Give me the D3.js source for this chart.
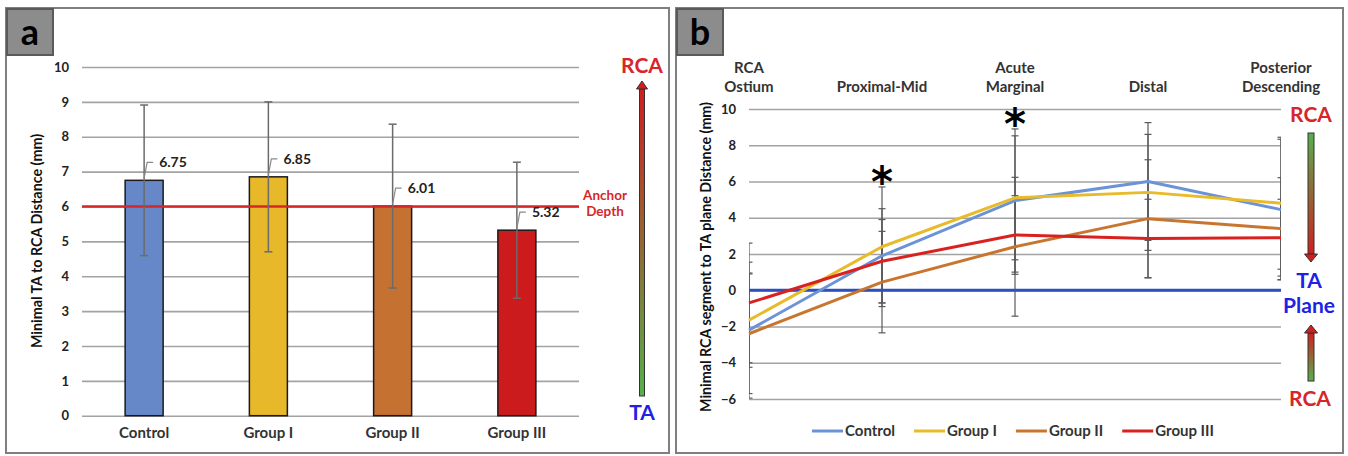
<!DOCTYPE html>
<html><head><meta charset="utf-8">
<script src="https://cdn.jsdelivr.net/npm/d3@7"></script>
<style>
body{margin:0;background:#fff}
svg{display:block}
text{font-family:Lato,"Open Sans",sans-serif;font-weight:700}
</style>
</head><body>
<svg id="chart" width="1348" height="456"></svg>
<script>
// ---------- Panel a data ----------
const groups = ["Control", "Group I", "Group II", "Group III"];
const meanDepth = [6.75, 6.85, 6.01, 5.32];
const sdDepth = [2.16, 2.15, 2.35, 1.95];
const depthTicks = [0, 1, 2, 3, 4, 5, 6, 7, 8, 9, 10];
const anchorDepth = 6;

// ---------- Panel b data ----------
const segments = [["RCA", "Ostium"], ["Proximal-Mid"], ["Acute", "Marginal"], ["Distal"], ["Posterior", "Descending"]];
const controlDist = [-2.2, 1.9, 4.95, 6.0, 4.45];
const group1Dist = [-1.65, 2.4, 5.1, 5.4, 4.8];
const group2Dist = [-2.4, 0.45, 2.4, 3.95, 3.4];
const group3Dist = [-0.7, 1.6, 3.05, 2.85, 2.9];
const controlSd = [3.75, 2.6, 3.95, 3.25, 3.88];
const group1Sd = [2.6, 3.3, 3.42, 3.2, 3.64];
const group2Sd = [3.3, 2.8, 3.83, 3.25, 2.81];
const group3Sd = [3.3, 2.3, 2.17, 2.17, 2.12];
const distTicks = [-6, -4, -2, 0, 2, 4, 6, 8, 10];
const sigMarks = ["", "*", "*", "", ""];
const taPlane = 0;

// ---------- styles ----------
const barColors = ["#6688c9", "#e6b82a", "#c57132", "#cc1b1c"];
const lineColors = ["#6b93d6", "#e8bb2a", "#c8762f", "#d9211f"];
const RED = "#d7262a", BLUE = "#2121e6", GRID = "#a3a3a3";

const svg = d3.select("#chart");

// panel frames
svg.append("rect").attr("x", 6).attr("y", 8).attr("width", 663).attr("height", 445)
  .attr("fill", "#fff").attr("stroke", "#7f7f7f").attr("stroke-width", 2);
svg.append("rect").attr("x", 676).attr("y", 8).attr("width", 667).attr("height", 445)
  .attr("fill", "#fff").attr("stroke", "#7f7f7f").attr("stroke-width", 2);

// gradients
const defs = svg.append("defs");
function grad(id, top, bottom) {
  const g = defs.append("linearGradient").attr("id", id).attr("x1", 0).attr("y1", 0).attr("x2", 0).attr("y2", 1);
  g.append("stop").attr("offset", "0%").attr("stop-color", top);
  g.append("stop").attr("offset", "100%").attr("stop-color", bottom);
}
const GR = "#d01f1f", GG = "#55b04b";
grad("redTop", GR, GG);
grad("greenTop", GG, GR);

function arrow(cx, yTop, yBot, w, headW, headL, dir, gradId, headFill) {
  const g = svg.append("g");
  if (dir === "up") {
    g.append("rect").attr("x", cx - w / 2).attr("y", yTop + headL).attr("width", w).attr("height", yBot - yTop - headL)
      .attr("fill", `url(#${gradId})`).attr("stroke", "#333").attr("stroke-width", 1);
    g.append("path").attr("d", `M${cx},${yTop} L${cx + headW / 2},${yTop + headL} L${cx - headW / 2},${yTop + headL} Z`)
      .attr("fill", headFill).attr("stroke", "#333").attr("stroke-width", 1);
  } else {
    g.append("rect").attr("x", cx - w / 2).attr("y", yTop).attr("width", w).attr("height", yBot - yTop - headL)
      .attr("fill", `url(#${gradId})`).attr("stroke", "#333").attr("stroke-width", 1);
    g.append("path").attr("d", `M${cx},${yBot} L${cx + headW / 2},${yBot - headL} L${cx - headW / 2},${yBot - headL} Z`)
      .attr("fill", headFill).attr("stroke", "#333").attr("stroke-width", 1);
  }
}

function labelBox(x, txt) {
  svg.append("rect").attr("x", x).attr("y", 9).attr("width", 46).attr("height", 46)
    .attr("fill", "#8c8c8c").attr("stroke", "#5a5a5a").attr("stroke-width", 2);
  svg.append("text").attr("x", x + 23).attr("y", 45).attr("text-anchor", "middle")
    .attr("font-size", 36).attr("fill", "#000").text(txt);
}

// ================= Panel a =================
{
  const x = d3.scaleBand().domain(groups).range([82, 579]).padding(0);
  const y = d3.scaleLinear().domain([0, 10]).range([415.7, 67]);
  const barW = 38;

  const ax = svg.append("g").attr("transform", "translate(82,0)")
    .call(d3.axisLeft(y).tickValues(depthTicks).tickSize(-497).tickPadding(13).tickFormat(d3.format("d")));
  ax.select(".domain").remove();
  ax.selectAll(".tick line").attr("stroke", GRID).attr("stroke-width", 1.6);
  ax.selectAll(".tick text").attr("font-size", 13).attr("fill", "#222")
    .style("font-family", "Lato,sans-serif").style("font-weight", 700);

  const bx = svg.append("g").attr("transform", "translate(0,415.7)")
    .call(d3.axisBottom(x).tickSize(0).tickPadding(12));
  bx.select(".domain").remove();
  bx.selectAll(".tick text").attr("font-size", 15).attr("fill", "#333")
    .style("font-family", "Lato,sans-serif").style("font-weight", 700);

  // bars
  svg.append("g").selectAll("rect").data(groups).join("rect")
    .attr("x", d => x(d) + x.bandwidth() / 2 - barW / 2)
    .attr("y", (d, i) => y(meanDepth[i]))
    .attr("width", barW)
    .attr("height", (d, i) => y(0) - y(meanDepth[i]))
    .attr("fill", (d, i) => barColors[i])
    .attr("stroke", "#1a1a1a").attr("stroke-width", 1.5);

  // anchor line
  svg.append("line").attr("x1", 82).attr("x2", 579).attr("y1", y(anchorDepth)).attr("y2", y(anchorDepth))
    .attr("stroke", RED).attr("stroke-width", 2.5);

  // error bars
  const eg = svg.append("g").attr("stroke", "#6b6b6b").attr("stroke-width", 1.5);
  groups.forEach((g, i) => {
    const cx = x(g) + x.bandwidth() / 2;
    const hi = y(meanDepth[i] + sdDepth[i]), lo = y(meanDepth[i] - sdDepth[i]);
    eg.append("line").attr("x1", cx).attr("x2", cx).attr("y1", hi).attr("y2", lo);
    eg.append("line").attr("x1", cx - 4).attr("x2", cx + 4).attr("y1", hi).attr("y2", hi);
    eg.append("line").attr("x1", cx - 4).attr("x2", cx + 4).attr("y1", lo).attr("y2", lo);
  });

  // data labels with leaders
  groups.forEach((g, i) => {
    const cx = x(g) + x.bandwidth() / 2;
    const top = y(meanDepth[i]);
    svg.append("polyline").attr("points", `${cx},${top - 2} ${cx + 3},${top - 18} ${cx + 9},${top - 18}`)
      .attr("fill", "none").attr("stroke", "#8a8a8a").attr("stroke-width", 1.2);
    svg.append("text").attr("x", cx + 15).attr("y", top - 18).attr("dy", "0.35em")
      .attr("font-size", 14).attr("fill", "#222").text(d3.format(".2f")(meanDepth[i]));
  });

  // anchor depth label
  svg.append("text").attr("x", 605).attr("y", 200).attr("text-anchor", "middle").attr("font-size", 13.5)
    .attr("fill", RED).text("Anchor");
  svg.append("text").attr("x", 605).attr("y", 216).attr("text-anchor", "middle").attr("font-size", 13.5)
    .attr("fill", RED).text("Depth");

  // y title
  svg.append("text").attr("transform", "translate(42,241) rotate(-90)").attr("text-anchor", "middle")
    .attr("font-size", 14.3).attr("fill", "#111").text("Minimal TA to RCA Distance (mm)");

  // gradient arrow
  arrow(642, 81, 396, 5, 11, 8, "up", "redTop", GR);
  svg.append("text").attr("x", 642).attr("y", 73).attr("text-anchor", "middle").attr("font-size", 21)
    .attr("fill", RED).text("RCA");
  svg.append("text").attr("x", 642).attr("y", 420).attr("text-anchor", "middle").attr("font-size", 21)
    .attr("fill", BLUE).text("TA");

  labelBox(7, "a");
}

// ================= Panel b =================
{
  const idx = d3.range(segments.length);
  const x = d3.scalePoint().domain(idx).range([749, 1281]);
  const y = d3.scaleLinear().domain([-6, 10]).range([399, 109]);
  const series = [
    { name: "Control", v: controlDist, sd: controlSd },
    { name: "Group I", v: group1Dist, sd: group1Sd },
    { name: "Group II", v: group2Dist, sd: group2Sd },
    { name: "Group III", v: group3Dist, sd: group3Sd }
  ];

  const ax = svg.append("g").attr("transform", "translate(749,0)")
    .call(d3.axisLeft(y).tickValues(distTicks).tickSize(-532).tickPadding(13).tickFormat(d3.format("d")));
  ax.select(".domain").remove();
  ax.selectAll(".tick line").attr("stroke", GRID).attr("stroke-width", 1.5);
  ax.selectAll(".tick text").attr("font-size", 13).attr("fill", "#222")
    .style("font-family", "Lato,sans-serif").style("font-weight", 700);

  // top category labels
  segments.forEach((lines, i) => {
    const t = svg.append("text").attr("text-anchor", "middle").attr("font-size", 15).attr("fill", "#333");
    lines.forEach((ln, j) => {
      t.append("tspan").attr("x", x(i)).attr("y", 92 - (lines.length - 1 - j) * 19).text(ln);
    });
  });

  // clip
  defs.append("clipPath").attr("id", "plotB").append("rect")
    .attr("x", 749).attr("y", 100).attr("width", 532).attr("height", 299);

  // error bars
  const eg = svg.append("g").attr("clip-path", "url(#plotB)").attr("stroke", "#5a5a5a").attr("stroke-width", 1.2);
  series.forEach(s => {
    idx.forEach(i => {
      const cx = x(i), hi = y(s.v[i] + s.sd[i]), lo = y(s.v[i] - s.sd[i]);
      eg.append("line").attr("x1", cx).attr("x2", cx).attr("y1", hi).attr("y2", lo);
      eg.append("line").attr("x1", cx - 3.5).attr("x2", cx + 3.5).attr("y1", hi).attr("y2", hi);
      eg.append("line").attr("x1", cx - 3.5).attr("x2", cx + 3.5).attr("y1", lo).attr("y2", lo);
    });
  });

  // TA plane line
  svg.append("line").attr("x1", 749).attr("x2", 1281).attr("y1", y(taPlane)).attr("y2", y(taPlane))
    .attr("stroke", "#2f4fbf").attr("stroke-width", 3);

  // series lines
  const line = d3.line().x((d, i) => x(i)).y(d => y(d));
  series.forEach((s, k) => {
    svg.append("path").attr("d", line(s.v)).attr("fill", "none")
      .attr("stroke", lineColors[k]).attr("stroke-width", 3).attr("stroke-linejoin", "round");
  });

  // significance markers
  idx.forEach(i => {
    if (!sigMarks[i]) return;
    const top = d3.max(series, s => s.v[i] + s.sd[i]);
    svg.append("text").attr("x", x(i)).attr("y", y(top) - 14 + 24).attr("text-anchor", "middle")
      .style("font-family", "DejaVu Sans").attr("font-size", 42).attr("fill", "#000").text(sigMarks[i]);
  });

  // y title
  svg.append("text").attr("transform", "translate(711,257) rotate(-90)").attr("text-anchor", "middle")
    .attr("font-size", 14.3).attr("fill", "#111").text("Minimal RCA segment to TA plane Distance (mm)");

  // legend
  const lg = svg.append("g");
  let cur = 0;
  series.forEach((s, k) => {
    const g = lg.append("g").attr("transform", `translate(${cur},0)`);
    g.append("line").attr("x1", 0).attr("x2", 31).attr("y1", 0).attr("y2", 0)
      .attr("stroke", lineColors[k]).attr("stroke-width", 3);
    const t = g.append("text").attr("x", 33).attr("y", 0).attr("dy", "0.35em").attr("font-size", 15)
      .attr("fill", "#333").text(s.name);
    const w = 33 + t.node().getComputedTextLength();
    cur += w + 19;
  });
  const totalW = cur - 19;
  lg.attr("transform", `translate(${1013 - totalW / 2},431)`);

  // right annotations
  svg.append("text").attr("x", 1311).attr("y", 122).attr("text-anchor", "middle").attr("font-size", 21)
    .attr("fill", RED).text("RCA");
  arrow(1311, 133, 262, 6, 13, 8, "down", "greenTop", GR);
  svg.append("text").attr("x", 1309).attr("y", 288).attr("text-anchor", "middle").attr("font-size", 21)
    .attr("fill", BLUE).text("TA");
  svg.append("text").attr("x", 1309).attr("y", 313).attr("text-anchor", "middle").attr("font-size", 21)
    .attr("fill", BLUE).text("Plane");
  arrow(1311, 325, 381, 6, 13, 8, "up", "redTop", GR);
  svg.append("text").attr("x", 1310).attr("y", 406).attr("text-anchor", "middle").attr("font-size", 21)
    .attr("fill", RED).text("RCA");

  labelBox(677, "b");
}
</script>
</body></html>
